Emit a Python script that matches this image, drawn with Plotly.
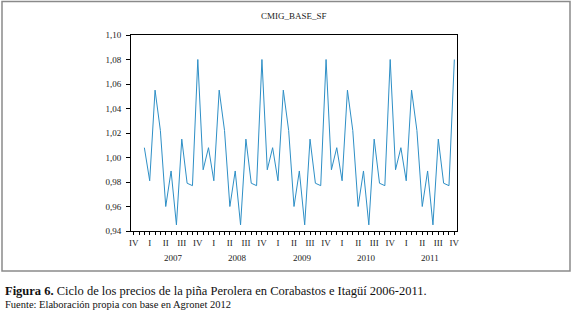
import pandas as pd
import plotly.graph_objects as go

# ---- data ----
axis_start = "2006-10"
axis_end = "2011-10"
data_start = "2006-12"
values = [
    1.008,
    0.981, 1.055, 1.022, 0.960, 0.989, 0.945, 1.015, 0.979, 0.977, 1.080, 0.990, 1.008,
    0.981, 1.055, 1.022, 0.960, 0.989, 0.945, 1.015, 0.979, 0.977, 1.080, 0.990, 1.008,
    0.981, 1.055, 1.022, 0.960, 0.989, 0.945, 1.015, 0.979, 0.977, 1.080, 0.990, 1.008,
    0.981, 1.055, 1.022, 0.960, 0.989, 0.945, 1.015, 0.979, 0.977, 1.080, 0.990, 1.008,
    0.981, 1.055, 1.022, 0.960, 0.989, 0.945, 1.015, 0.979, 0.977, 1.080,
]
quarter_names = {1: "I", 4: "II", 7: "III", 10: "IV"}
years = [2007, 2008, 2009, 2010, 2011]
y_ticks = [0.94, 0.96, 0.98, 1.00, 1.02, 1.04, 1.06, 1.08, 1.10]
title = "CMIG_BASE_SF"
caption_bold = "Figura 6."
caption_rest = " Ciclo de los precios de la piña Perolera en Corabastos e Itagüí 2006-2011."
source = "Fuente: Elaboración propia con base en Agronet 2012"

# ---- derived positions ----
p0 = pd.Period(axis_start, freq="M")
axis_months = pd.period_range(axis_start, axis_end, freq="M")
data_months = pd.period_range(data_start, periods=len(values), freq="M")
x = [(m - p0).n for m in data_months]
tickvals = [(m - p0).n for m in axis_months]
ticktext = [quarter_names.get(m.month, "") for m in axis_months]
year_pos = [(pd.Period(f"{y}-01", freq="M") - p0).n + 4.5 for y in years]

FONT = "Liberation Serif"

fig = go.Figure()
fig.add_trace(go.Scatter(x=x, y=values, mode="lines",
                         line=dict(color="#2e8fc6", width=1), hoverinfo="skip"))

W, H = 572, 314
L, R, T, B = 131, 457, 35, 231
def px(v):
    return (v - L) / (R - L)
def py(v):
    return (B - v) / (B - T)

annotations = []
for yr, pos in zip(years, year_pos):
    annotations.append(dict(x=pos, xref="x", y=py(258), yref="paper", text=str(yr),
                            showarrow=False, xanchor="center", yanchor="middle",
                            font=dict(family=FONT, size=9, color="#222")))
annotations.append(dict(x=px(3), xref="paper", y=py(291), yref="paper",
                        text=f"<b>{caption_bold}</b>{caption_rest}", showarrow=False,
                        xanchor="left", yanchor="middle",
                        font=dict(family=FONT, size=12.5, color="#111")))
annotations.append(dict(x=px(3), xref="paper", y=py(304.5), yref="paper",
                        text=source, showarrow=False, xanchor="left", yanchor="middle",
                        font=dict(family=FONT, size=10.5, color="#111")))
annotations.append(dict(x=0.5, xref="paper", y=py(16), yref="paper",
                        text=title, showarrow=False, xanchor="center", yanchor="middle",
                        font=dict(family=FONT, size=9, color="#222")))

shapes = [dict(type="rect", xref="paper", yref="paper",
               x0=px(2), x1=px(570), y0=py(271), y1=py(1.5),
               line=dict(color="#8a8a8a", width=1.5), fillcolor="rgba(0,0,0,0)")]

fig.update_layout(
    width=W, height=H,
    margin=dict(l=L, r=W - R, t=T, b=H - B, pad=0),
    paper_bgcolor="white", plot_bgcolor="white",
    showlegend=False,
    separators=",.",
    annotations=annotations,
    shapes=shapes,
    font=dict(family=FONT, size=9, color="#222"),
)
fig.update_xaxes(
    range=[-0.5, tickvals[-1] + 0.5],
    tickmode="array", tickvals=tickvals, ticktext=ticktext,
    ticks="outside", ticklen=3, tickwidth=1, tickcolor="#000",
    showline=True, linecolor="#000", linewidth=1, mirror=True,
    showgrid=False, zeroline=False,
    tickfont=dict(family=FONT, size=9, color="#222"),
)
fig.update_yaxes(
    range=[0.94, 1.10],
    tickmode="array", tickvals=y_ticks, tickformat=".2f",
    ticks="outside", ticklen=4, tickwidth=1, tickcolor="#000",
    showline=True, linecolor="#000", linewidth=1, mirror=True,
    showgrid=False, zeroline=False, ticklabelstandoff=3,
    tickfont=dict(family=FONT, size=9, color="#222"),
)

fig.write_html("out.html", config={"displayModeBar": False, "staticPlot": True},
               post_script="document.body.style.margin='0';document.body.style.overflow='hidden';")
